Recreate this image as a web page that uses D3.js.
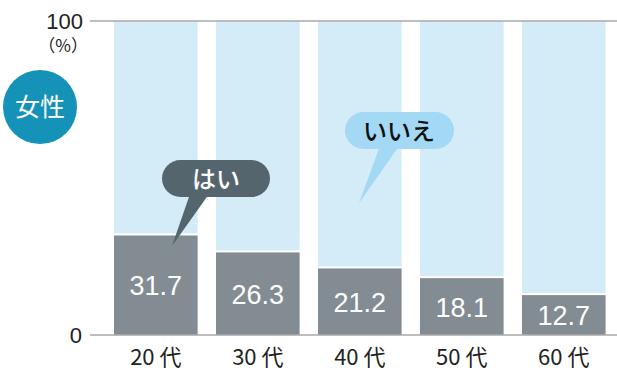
<!DOCTYPE html>
<html><head><meta charset="utf-8">
<script src="https://cdn.jsdelivr.net/npm/d3@7"></script>
<style>body{margin:0;background:#fff}svg{display:block}</style>
</head><body>
<svg id="c" width="617" height="372"></svg>
<script>
const categories = ["20 代","30 代","40 代","50 代","60 代"];
const yesValues = [31.7, 26.3, 21.2, 18.1, 12.7];
const yTicks = [0, 100];

const svg = d3.select("#c");
const font = "'Liberation Sans','Noto Sans CJK JP',Arial,sans-serif";
const jp = "'Noto Sans CJK JP','Liberation Sans',sans-serif";
const x = d3.scaleBand().domain(categories).range([114, 605.6]).paddingInner(0.18).paddingOuter(0);
const y = d3.scaleLinear().domain([0, 100]).range([335, 21]);

// bars
const g = svg.append("g");
categories.forEach((c, i) => {
  g.append("rect").attr("x", x(c)).attr("width", x.bandwidth())
    .attr("y", y(100)).attr("height", y(yesValues[i]) - y(100) - 2)
    .attr("fill", "#d4ebf8");
  g.append("rect").attr("x", x(c)).attr("width", x.bandwidth())
    .attr("y", y(yesValues[i])).attr("height", y(0) - y(yesValues[i]))
    .attr("fill", "#828c92");
  g.append("text").attr("x", x(c) + x.bandwidth()/2)
    .attr("y", (y(yesValues[i]) + y(0))/2 + 10)
    .attr("text-anchor", "middle").attr("fill", "#fff")
    .attr("font-family", font).attr("font-size", 27)
    .text(yesValues[i].toFixed(1));
});

// grid lines at 0 and 100
yTicks.forEach(t => {
  svg.append("line").attr("x1", 90).attr("x2", 617).attr("y1", y(t)).attr("y2", y(t))
    .attr("stroke", "#a9a9a9").attr("stroke-width", 1.5);
});
svg.append("text").attr("x", 83).attr("y", y(100) + 8).attr("text-anchor", "end")
  .attr("font-family", font).attr("font-size", 22).attr("fill", "#222").text("100");
svg.append("text").attr("x", 88).attr("y", y(100) + 31).attr("text-anchor", "end")
  .attr("font-family", jp).attr("font-size", 17).attr("fill", "#222").text("（%）");
svg.append("text").attr("x", 82).attr("y", y(0) + 8).attr("text-anchor", "end")
  .attr("font-family", font).attr("font-size", 22).attr("fill", "#222").text("0");

// x labels
const xAxis = d3.axisBottom(x).tickSize(0).tickPadding(0);
const xa = svg.append("g").attr("transform", `translate(0,${y(0)})`).call(xAxis);
xa.select(".domain").remove();
xa.selectAll("text").attr("y", 30).attr("dy", 0).attr("font-family", jp)
  .attr("font-size", 22).attr("fill", "#222");

// circle 女性
svg.append("circle").attr("cx", 40).attr("cy", 107).attr("r", 37).attr("fill", "#1592b8");
svg.append("text").attr("x", 40).attr("y", 116).attr("text-anchor", "middle")
  .attr("font-family", jp).attr("font-size", 25).attr("fill", "#fff").text("女性");

// はい bubble
svg.append("path").attr("d", "M190,194 L209,194 L172,246 Z").attr("fill", "#55656e");
svg.append("rect").attr("x", 162).attr("y", 160).attr("width", 108).attr("height", 37)
  .attr("rx", 18.5).attr("fill", "#55656e");
svg.append("text").attr("x", 216).attr("y", 188).attr("text-anchor", "middle")
  .attr("font-family", jp).attr("font-size", 24).attr("font-weight", 500).attr("fill", "#fff").text("はい");

// いいえ bubble
svg.append("path").attr("d", "M380,146 L399,146 L359,203 Z").attr("fill", "#a3d9f5");
svg.append("rect").attr("x", 345).attr("y", 112).attr("width", 109).attr("height", 37)
  .attr("rx", 18.5).attr("fill", "#a3d9f5");
svg.append("text").attr("x", 399).attr("y", 140).attr("text-anchor", "middle")
  .attr("font-family", jp).attr("font-size", 24).attr("font-weight", 500).attr("fill", "#111").text("いいえ");
</script>
</body></html>
